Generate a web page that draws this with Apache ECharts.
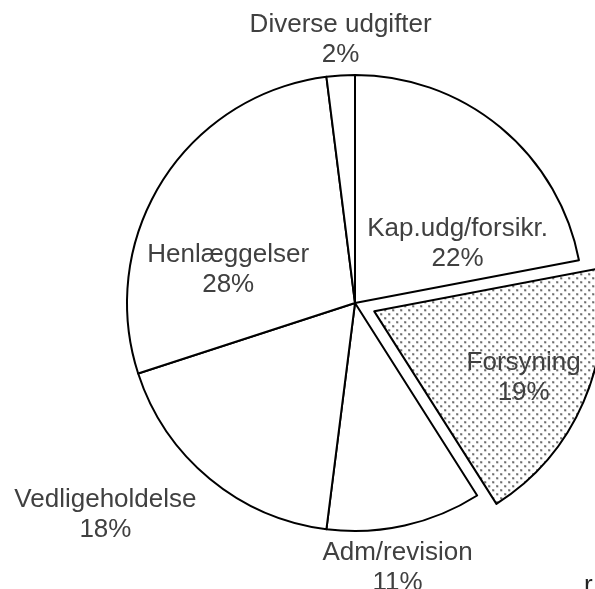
<!DOCTYPE html>
<html>
<head>
    <meta charset="UTF-8">
    <title>Udgifter</title>
    <script src="https://cdn.jsdelivr.net/npm/echarts@6/dist/echarts.min.js"></script>
    <style>
        html, body { margin: 0; padding: 0; background: #fff; }
    </style>
</head>
<body>
<div id="main" style="width: 595px;height:589px;"></div>
<script type="text/javascript">
    // data, clockwise from 12 o'clock
    const categories = ['Kap.udg/forsikr.', 'Forsyning', 'Adm/revision', 'Vedligeholdelse', 'Henlæggelser', 'Diverse udgifter'];
    const values = [22, 19, 11, 18, 28, 2];
    const explodedIndex = 1;

    // label shifts from the default "inside" spot
    const labelShift = [[28, 31], [42, 20], [17, 151], [-175, 122], [-28, 30], [-7, -146]];

    // dotted fill for the pulled out slice
    function dotPattern() {
        let c = document.createElement('canvas');
        c.width = 8;
        c.height = 8;
        let ctx = c.getContext('2d');
        ctx.fillStyle = '#fff';
        ctx.fillRect(0, 0, 8, 8);
        ctx.fillStyle = '#777';
        ctx.fillRect(1, 1, 2, 2);
        ctx.fillRect(5, 5, 2, 2);
        ctx.fillStyle = '#111';
        ctx.fillRect(1, 1, 1, 1);
        ctx.fillRect(5, 5, 1, 1);
        return c;
    }

    let border = {borderColor: '#000', borderWidth: 2};

    let pieData = categories.map((name, i) => {
        let item = {name: name, value: values[i]};
        if (i === explodedIndex) {
            item.selected = true;
            item.itemStyle = Object.assign({color: {image: dotPattern(), repeat: 'repeat'}}, border);
            item.select = {itemStyle: Object.assign({color: {image: dotPattern(), repeat: 'repeat'}}, border)};
        }
        return item;
    });

    var myChart = echarts.init(document.getElementById('main'));

    let option = {
        animation: false,
        series: [
            {
                type: 'pie',
                center: [355, 303],
                radius: 228,
                startAngle: 90,
                clockwise: true,
                selectedMode: 'single',
                selectedOffset: 21,
                avoidLabelOverlap: false,
                emphasis: {disabled: true},
                itemStyle: Object.assign({color: '#fff'}, border),
                select: {itemStyle: border},
                label: {
                    show: true,
                    position: 'inside',
                    formatter: '{b}\n{d}%',
                    fontFamily: '"Liberation Sans", Arial, sans-serif',
                    fontSize: 26,
                    lineHeight: 30,
                    color: '#404040',
                    align: 'center'
                },
                labelLine: {show: false},
                labelLayout: function (params) {
                    let s = labelShift[params.dataIndex];
                    return {dx: s[0], dy: s[1]};
                },
                data: pieData
            }
        ],
        graphic: [
            {
                type: 'text',
                silent: true,
                x: 584,
                y: 573,
                style: {
                    text: 'r',
                    font: '26px "Liberation Sans", Arial, sans-serif',
                    fill: '#222',
                    verticalAlign: 'top'
                }
            }
        ]
    };

    myChart.setOption(option);
</script>
</body>
</html>
